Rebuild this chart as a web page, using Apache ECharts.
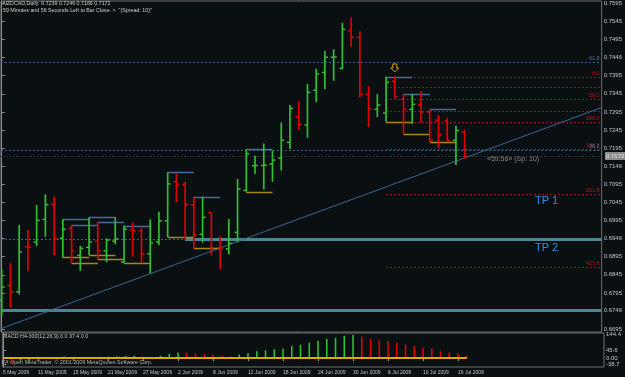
<!DOCTYPE html>
<html><head><meta charset="utf-8">
<script src="https://cdn.jsdelivr.net/npm/echarts@6/dist/echarts.min.js"></script>
<style>html,body{margin:0;padding:0;background:#0a0f11;}#c{width:625px;height:377px;}</style>
</head><body><div id="c"></div>
<script>
// ---------- data ----------
const dates = ['5 May 2009','6 May 2009','7 May 2009','8 May 2009','11 May 2009','12 May 2009','13 May 2009','14 May 2009','15 May 2009','18 May 2009','19 May 2009','20 May 2009','21 May 2009','22 May 2009','25 May 2009','26 May 2009','27 May 2009','28 May 2009','29 May 2009','1 Jun 2009','2 Jun 2009','3 Jun 2009','4 Jun 2009','5 Jun 2009','8 Jun 2009','9 Jun 2009','10 Jun 2009','11 Jun 2009','12 Jun 2009','15 Jun 2009','16 Jun 2009','17 Jun 2009','18 Jun 2009','19 Jun 2009','22 Jun 2009','23 Jun 2009','24 Jun 2009','25 Jun 2009','26 Jun 2009','29 Jun 2009','30 Jun 2009','1 Jul 2009','2 Jul 2009','3 Jul 2009','6 Jul 2009','7 Jul 2009','8 Jul 2009','9 Jul 2009','10 Jul 2009','13 Jul 2009','14 Jul 2009','15 Jul 2009','16 Jul 2009','17 Jul 2009'];
const open  = [0.6775,0.6815,0.6798,0.6922,0.6935,0.6998,0.7040,0.6946,0.6974,0.6899,0.6921,0.6938,0.6911,0.6938,0.6880,0.6969,0.6967,0.6903,0.6936,0.6994,0.7102,0.7095,0.7038,0.6957,0.7017,0.6920,0.6917,0.6962,0.7078,0.7146,0.7147,0.7151,0.7167,0.7211,0.7282,0.7259,0.7355,0.7404,0.7446,0.7415,0.7519,0.7501,0.7344,0.7302,0.7292,0.7380,0.7330,0.7302,0.7316,0.7295,0.7272,0.7270,0.7217,0.7239];
const high  = [0.6861,0.6877,0.6983,0.6969,0.7038,0.7067,0.7061,0.6998,0.6983,0.6925,0.7004,0.6992,0.6946,0.7004,0.6981,0.6990,0.6974,0.6998,0.7019,0.7128,0.7125,0.7102,0.7061,0.7061,0.7018,0.6951,0.6999,0.7110,0.7192,0.7174,0.7208,0.7188,0.7266,0.7314,0.7325,0.7372,0.7414,0.7463,0.7468,0.7541,0.7556,0.7517,0.7367,0.7344,0.7392,0.7394,0.7344,0.7344,0.7353,0.7302,0.7286,0.7279,0.7257,0.7246];
const low   = [0.6731,0.6754,0.6791,0.6856,0.6925,0.6950,0.6900,0.6893,0.6877,0.6856,0.6900,0.6889,0.6880,0.6929,0.6878,0.6895,0.6877,0.6849,0.6927,0.6949,0.7045,0.6941,0.6918,0.6934,0.6898,0.6861,0.6902,0.6935,0.7075,0.7124,0.7081,0.7102,0.7133,0.7192,0.7245,0.7224,0.7322,0.7358,0.7381,0.7414,0.7475,0.7335,0.7254,0.7281,0.7268,0.7333,0.7233,0.7262,0.7265,0.7213,0.7195,0.7215,0.7148,0.7166];
const close = [0.6811,0.6798,0.6908,0.6921,0.6996,0.7039,0.6945,0.6971,0.6911,0.6918,0.6936,0.6912,0.6941,0.6944,0.6971,0.6967,0.6902,0.6933,0.6994,0.7096,0.7093,0.7040,0.6955,0.7004,0.6920,0.6919,0.6932,0.7082,0.7179,0.7147,0.7148,0.7162,0.7217,0.7305,0.7261,0.7349,0.7400,0.7446,0.7447,0.7523,0.7501,0.7344,0.7304,0.7314,0.7377,0.7336,0.7302,0.7316,0.7295,0.7217,0.7233,0.7216,0.7244,0.7172];
const macd  = [0,-38.7,-20,-18,-3,3,6,10,6,5,7,7.5,8,10,13,14,10,6,14,26,34,33,30,24,22,14,10,22,30,43,49,55,59,75,82,95,107,119,125,138,144.4,132,119,109,105,95,85,75,65,59,43,36,28,14];
const macdSignal = [0,0,0,0,0,0,0,0,0,0,0,0,0,0,0,0,0,0,0,0,0,0,0,0,0,0,0,0,0,0,0,0,0,0,0,0,0,0,0,0,0,0,0,0,0,0,0,0,0,0,0,0,0,0];
const priceTickLabels = ['0.7595','0.7545','0.7495','0.7446','0.7395','0.7345','0.7295','0.7245','0.7195','0.7146','0.7095','0.7045','0.6995','0.6946','0.6895','0.6845','0.6795','0.6746','0.6695'];
const dateTickLabels = ['5 May 2009','11 May 2009','15 May 2009','21 May 2009','27 May 2009','2 Jun 2009','8 Jun 2009','12 Jun 2009','18 Jun 2009','24 Jun 2009','30 Jun 2009','6 Jul 2009','10 Jul 2009','16 Jul 2009'];
const macdTickValues = [144.4, 45.6, 0, -38.7];
const macdTickLabels = ['144.4','45.6','0.00','-38.7'];
const boxStarts = [7,8,10,11,14,19,22,28,44,46,49];
const boxSpan = 3;
const fibHigh = 0.7392, fibLow = 0.7268, fibStart = 44;
const fibLevels = [0,23.6,50,76.4,100,161.8,261.8,423.6];
const fibLabels = ['0.0','','50.0','','100.0','161.8','261.8','423.6'];
const blueLevelPrices = [0.7433, 0.7190];
const blueLevelLabels = ['61.8','38.2'];
const tealLevelPrices = [0.6944, 0.6748];
const tealLevelStart  = [21, null];
const trendA = [0, 0.6697], trendB = [60, 0.7230];
const arrowAt = [45, 0.7433];
const titleLine1 = 'NZDCAD,Daily  0.7239 0.7246 0.7166 0.7172';
const titleLine2 = '59 Minutes and 56 Seconds Left to Bar Close. >  "(Spread: 10)"';
const macdTitle = 'MACD H4-300(12,26,9) 0.0 37.4 0.0';
const copyright = 'FX Open MetaTrader, \u00a9 2001-2009 MetaQuotes Software Corp.';
const timerText = '\u00ab59:56\u00bb (Sp: 10)';

// ---------- chart ----------
const GREEN = '#2ec02e', RED = '#e00000';
const FONT = '"Liberation Sans", Arial, sans-serif';
const xMin = -0.08, xMax = 68.68;
const yMin = 0.66870, yMax = 0.76014;
const N = dates.length;
const chart = echarts.init(document.getElementById('c'));

const ohlc = dates.map((d, i) => [i, open[i], high[i], low[i], close[i]]);
const priceTickVals = priceTickLabels.map(parseFloat);
const dateTickIdx = dateTickLabels.map(l => dates.indexOf(l));

function nearestLabel(v, vals, labels) {
  let b = 0;
  for (let k = 1; k < vals.length; k++) if (Math.abs(vals[k] - v) < Math.abs(vals[b] - v)) b = k;
  return labels[b];
}

// level lines: [x1, x2, price, kind, label, price2]
const levelItems = [];
fibLevels.forEach((lv, k) => levelItems.push([fibStart, xMax, fibHigh - lv / 100 * (fibHigh - fibLow), 'fib', fibLabels[k]]));
blueLevelPrices.forEach((p, k) => levelItems.push([xMin, xMax, p, 'blue', blueLevelLabels[k]]));
tealLevelPrices.forEach((p, k) => {
  if (tealLevelStart[k] !== null) {
    levelItems.push([xMin, tealLevelStart[k], p, 'thin', '']);
    levelItems.push([tealLevelStart[k], xMax, p, 'teal', '']);
  } else levelItems.push([xMin, xMax, p, 'teal', '']);
});
levelItems.push([xMin, xMax, close[N - 1], 'bid', '']);
const slope = (trendB[1] - trendA[1]) / (trendB[0] - trendA[0]);
levelItems.push([xMin, xMax, trendA[1] + slope * (xMin - trendA[0]), 'trend', '', trendA[1] + slope * (xMax - trendA[0])]);

const boxItems = [];
boxStarts.forEach(s => { boxItems.push([s, s + boxSpan, high[s], 'top']); boxItems.push([s, s + boxSpan, low[s], 'bot']); });

const option = {
  backgroundColor: '#0a0f11',
  animation: false,
  grid: [
    { left: 1, right: 21, top: 1, bottom: 45, show: true, borderColor: '#707070', borderWidth: 1 },
    { left: 1, right: 21, top: 333, bottom: 10, show: true, borderColor: '#707070', borderWidth: 1 }
  ],
  xAxis: [
    { gridIndex: 0, type: 'value', min: xMin, max: xMax, axisLine: { show: false }, axisTick: { show: false }, axisLabel: { show: false }, splitLine: { show: false } },
    { gridIndex: 1, type: 'value', min: xMin, max: xMax, axisLine: { show: false },
      axisTick: { show: true, customValues: dateTickIdx, length: 3, lineStyle: { color: '#909090' } },
      axisLabel: { customValues: dateTickIdx, formatter: v => dates[Math.round(v)], align: 'left', color: '#c4c4c4', fontSize: 5, margin: 3, fontFamily: FONT },
      splitLine: { show: false } }
  ],
  yAxis: [
    { gridIndex: 0, type: 'value', position: 'right', min: yMin, max: yMax,
      axisLine: { show: true, lineStyle: { color: '#909090' } },
      axisTick: { show: true, customValues: priceTickVals, length: 3, lineStyle: { color: '#909090' } },
      axisLabel: { customValues: priceTickVals, formatter: v => nearestLabel(v, priceTickVals, priceTickLabels), color: '#c4c4c4', fontSize: 6, margin: 2, fontFamily: FONT },
      splitLine: { show: false } },
    { gridIndex: 1, type: 'value', position: 'right', min: -55, max: 155,
      axisLine: { show: true, lineStyle: { color: '#909090' } },
      axisTick: { show: true, customValues: macdTickValues, length: 3, lineStyle: { color: '#909090' } },
      axisLabel: { customValues: macdTickValues, formatter: v => nearestLabel(v, macdTickValues, macdTickLabels), color: '#c4c4c4', fontSize: 6, margin: 2, fontFamily: FONT },
      splitLine: { show: false } }
  ],
  series: [
    { type: 'custom', xAxisIndex: 0, yAxisIndex: 0, data: levelItems, encode: { x: [0, 1], y: 2 }, z: 1,
      renderItem: (params, api) => {
        const it = levelItems[params.dataIndex];
        const p1 = api.coord([it[0], it[2]]);
        const p2 = api.coord([it[1], it[5] !== undefined ? it[5] : it[2]]);
        const st = { fib: { stroke: '#9c1020', lineWidth: 1, lineDash: [2, 2] },
                     blue: { stroke: '#3b5f86', lineWidth: 1, lineDash: [2, 2] },
                     thin: { stroke: '#3b5f86', lineWidth: 1, lineDash: [2, 2] },
                     teal: { stroke: '#4f8592', lineWidth: 3 },
                     bid: { stroke: '#3a3a3a', lineWidth: 1, lineDash: [1, 2] },
                     trend: { stroke: '#3a6894', lineWidth: 1 } }[it[3]];
        const y1 = Math.round(p1[1]) + 0.5, y2 = Math.round(p2[1]) + 0.5;
        const children = [{ type: 'line', shape: { x1: p1[0], y1: it[3] === 'trend' ? p1[1] : y1, x2: p2[0], y2: it[3] === 'trend' ? p2[1] : y2 }, style: st }];
        if (it[4]) children.push({ type: 'text', style: { text: it[4], x: p2[0] - 2, y: y1 - 1, align: 'right', verticalAlign: 'bottom',
          fill: it[3] === 'fib' ? '#c01020' : '#4a78a8', font: '5.5px ' + FONT } });
        return { type: 'group', children };
      } },
    { type: 'custom', xAxisIndex: 0, yAxisIndex: 0, data: boxItems, encode: { x: [0, 1], y: 2 }, z: 2,
      renderItem: (params, api) => {
        const it = boxItems[params.dataIndex];
        const p1 = api.coord([it[0], it[2]]), p2 = api.coord([it[1], it[2]]);
        const y = Math.round(p1[1]) + 0.5;
        return { type: 'line', shape: { x1: p1[0], y1: y, x2: p2[0], y2: y },
          style: { stroke: it[3] === 'top' ? '#4a6a98' : '#a88a10', lineWidth: 1.5 } };
      } },
    { type: 'custom', xAxisIndex: 0, yAxisIndex: 0, data: ohlc, encode: { x: 0, y: [1, 2, 3, 4] }, z: 3,
      renderItem: (params, api) => {
        const i = api.value(0), o = api.value(1), h = api.value(2), l = api.value(3), c = api.value(4);
        const ph = api.coord([i, h]), pl = api.coord([i, l]), po = api.coord([i, o]), pc = api.coord([i, c]);
        const col = c >= o ? GREEN : RED;
        const x = ph[0];
        return { type: 'group', children: [
          { type: 'line', shape: { x1: x, y1: ph[1], x2: x, y2: pl[1] }, style: { stroke: col, lineWidth: 1.7 } },
          { type: 'line', shape: { x1: x - 3, y1: po[1], x2: x, y2: po[1] }, style: { stroke: col, lineWidth: 1.5 } },
          { type: 'line', shape: { x1: x, y1: pc[1], x2: x + 3, y2: pc[1] }, style: { stroke: col, lineWidth: 1.5 } }
        ] };
      } },
    { type: 'custom', xAxisIndex: 0, yAxisIndex: 0, data: [arrowAt], encode: { x: 0, y: 1 }, z: 4,
      renderItem: (params, api) => {
        const p = api.coord([arrowAt[0], arrowAt[1]]);
        const x = p[0], y = p[1] + 2;
        return { type: 'polygon', shape: { points: [[x - 2, y], [x + 2, y], [x + 2, y + 4], [x + 4, y + 4], [x, y + 8], [x - 4, y + 4], [x - 2, y + 4]] },
          style: { stroke: '#d8a418', fill: 'rgba(0,0,0,0)', lineWidth: 1 } };
      } },
    { type: 'custom', xAxisIndex: 1, yAxisIndex: 1, data: macd.map((v, i) => [i, v]), encode: { x: 0, y: 1 }, z: 3,
      renderItem: (params, api) => {
        const i = api.value(0), v = api.value(1);
        const p0 = api.coord([i, 0]), p1 = api.coord([i, v]);
        const col = (i === 0 || v >= macd[i - 1]) ? GREEN : RED;
        return { type: 'line', shape: { x1: p0[0], y1: p0[1], x2: p1[0], y2: p1[1] }, style: { stroke: col, lineWidth: 1.6 } };
      } },
    { type: 'line', xAxisIndex: 1, yAxisIndex: 1, data: macdSignal.map((v, i) => [i, v]), symbol: 'none', z: 4,
      lineStyle: { color: '#e0a800', width: 2 } }
  ],
  graphic: [
    { type: 'text', left: 3, top: 1, style: { text: titleLine1, fill: '#d0d0d0', font: '5.3px ' + FONT } },
    { type: 'text', left: 3, top: 8, style: { text: titleLine2, fill: '#d0d0d0', font: '5.3px ' + FONT } },
    { type: 'text', left: 3, top: 334, style: { text: macdTitle, fill: '#c8c8c8', font: '5.3px ' + FONT } },
    { type: 'text', left: 2, top: 360, style: { text: copyright, fill: '#b8b8b8', font: '5.3px ' + FONT } },
    { type: 'text', left: 487, top: 156, style: { text: timerText, fill: '#8c8c8c', font: '7px ' + FONT } },
    { type: 'text', left: 535, top: 195, style: { text: 'TP 1', fill: '#2f8be6', font: '11px ' + FONT } },
    { type: 'text', left: 535, top: 242, style: { text: 'TP 2', fill: '#2f8be6', font: '11px ' + FONT } },
    { type: 'rect', left: 605, top: 152, shape: { width: 20, height: 8 }, style: { fill: '#8a8a8a' } },
    { type: 'text', left: 606, top: 153, style: { text: close[N - 1].toFixed(4), fill: '#f0f0f0', font: '6px ' + FONT } }
  ]
};
chart.setOption(option);
</script></body></html>
